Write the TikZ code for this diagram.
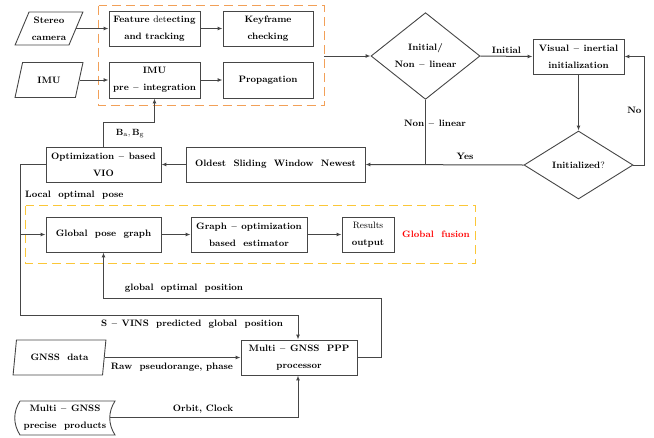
\documentclass[tikz,border=0pt]{standalone}
\usetikzlibrary{shapes.geometric,arrows.meta,calc}
\definecolor{linegray}{RGB}{70,70,70}
\definecolor{orangedash}{RGB}{242,160,88}
\definecolor{fusionyellow}{HTML}{FBC738}
\begin{document}
\begin{tikzpicture}[x=1pt,y=-1pt,
  font=\fontsize{9.3}{17}\selectfont\bfseries,
  box/.style={draw=linegray, line width=0.9pt, align=center, inner sep=0pt, minimum height=35pt},
  para/.style={trapezium, trapezium left angle=63, trapezium right angle=117,
    trapezium stretches=true, draw=linegray, line width=0.9pt, align=center, inner sep=0pt},
  dia/.style={diamond, draw=linegray, line width=0.9pt, align=center, inner sep=0pt},
  conn/.style={draw=linegray, line width=1pt},
  arr/.style={conn, -{Latex[length=5pt,width=4pt]}},
  lbl/.style={inner sep=0pt, align=center},
  group/.style={dash pattern=on 9pt off 5pt, line width=1.2pt}
]
\useasboundingbox (0,0) rectangle (654,437);

% front end: sensors and tracking
\node[para, minimum width=68pt, minimum height=33pt] (cam) at (49,28.5) {Stereo\\camera};
\node[para, minimum width=68pt, minimum height=35pt] (imu) at (49,80) {IMU};
\node[box, minimum width=91pt] (feat) at (154.5,28.5) {Feature {\mdseries det}ecting\\and tracking};
\node[box, minimum width=90pt] (key) at (268,28.5) {Keyframe\\checking};
\node[box, minimum width=91pt, minimum height=36pt] (pre) at (154.5,80) {IMU\\pre $-$ integration};
\node[box, minimum width=90pt, minimum height=36pt] (prop) at (268,80) {Propagation};
\draw[draw=orangedash, group] (98.5,5.5) rectangle (324.5,105.5);
\coordinate (fe) at (324,56);

% initialization logic
\node[dia, minimum width=109pt, minimum height=66pt] (mode) at (425.5,56) {Initial/\\Non $-$ linear};
\node[box, minimum width=91pt] (vinit) at (578.5,56.5) {Visual $-$ inertial\\initialization};
\node[dia, minimum width=109pt, minimum height=68pt] (done) at (578.5,165) {Initialized{\mdseries ?}};

% sliding window optimization
\node[box, minimum width=179pt] (win) at (275.5,164.5) {Oldest\ \ Sliding\ \ Window\ \ Newest};
\node[box, minimum width=115pt] (vio) at (103.5,164.5) {Optimization $-$ based\\VIO};

% global fusion
\draw[color=fusionyellow, dash pattern=on 9pt off 5pt, line width=1.5pt] (25.5,205.5) rectangle (475.5,263.5);
\node[box, minimum width=115pt] (pg) at (103.5,234.5) {Global\ \ pose\ \ graph};
\node[box, minimum width=116pt] (est) at (249,234.5) {Graph $-$ optimization\\based\ \ estimator};
\node[box, minimum width=52pt] (res) at (368,234.5) {{\mdseries Results}\\output};
\node[lbl, text=red] (gf) at (436,234) {Global\ \ fusion};

% GNSS side
\node[box, minimum width=116pt] (ppp) at (299,357.5) {Multi $-$ GNSS\ \ PPP\\processor};
\node[para, trapezium left angle=71, trapezium right angle=109, minimum width=93pt, minimum height=35pt] (gnss) at (59.5,357.5) {GNSS\ \ data};
\node[lbl, minimum width=90pt, minimum height=34pt] (prod) at (65,418) {Multi $-$ GNSS\\precise\ \ products};
\draw[linegray, line width=0.9pt] (20,401) -- (115,401)
  .. controls (108,412) and (108,424) .. (115,435) -- (20,435)
  .. controls (13,424) and (13,412) .. (20,401);

% connectors: front end
\draw[arr] (cam.east |- feat.west) -- (feat.west);
\draw[arr] (imu.east |- pre.west) -- (pre.west);
\draw[arr] (feat) -- (key);
\draw[arr] (pre) -- (prop);
\draw[arr] (fe) -- (mode.west);

% connectors: initialization
\draw[arr] (mode.east) -- node[lbl, above=2.5pt] {Initial} (vinit.west);
\draw[arr] (vinit.south) -- (done.north);
\coordinate (nor) at (644,165);
\draw[arr] (done.east) -- (nor) -- node[lbl, left=2pt] {No} (nor |- vinit.east) -- (vinit.east);
\coordinate (join) at (mode.south |- done.west);
\draw[conn] (mode.south) -- (join);
\node[lbl] at (435,124) {Non $-$ linear};
\draw[arr] (done.west) -- (win.east);
\node[lbl] at (465,156) {Yes};
\draw[arr] (win.west) -- (vio.east);

% bias feedback
\coordinate (b1) at (103,122);
\coordinate (b2) at (154.5,122);
\draw[arr] (vio.north -| b1) -- (b1) -- (b2) -- (pre.south);
\node[lbl] at (130,134) {$\mathbf{B}_{\mathrm{a}},\mathbf{B}_{\mathrm{g}}$};

% local pose to global fusion and GNSS
\coordinate (l1) at (20,164.5);
\coordinate (l2) at (20,315);
\coordinate (l3) at (298,315);
\draw[conn] (vio.west) -- (l1) -- (l2) -- (l3);
\draw[arr] (l3) -- (ppp.north -| l3);
\node[lbl, anchor=west] at (25,195) {Local\ \ optimal\ \ pose};
\draw[arr] (pg.west -| l1) -- (pg.west);
\node[lbl] at (192,324) {S $-$ VINS\ \ predicted\ \ global\ \ position};

% fusion chain
\draw[arr] (pg) -- (est);
\draw[arr] (est) -- (res);

% GNSS feedback to pose graph
\coordinate (g1) at (381,357.5);
\coordinate (g2) at (381,298);
\coordinate (g3) at (103.5,298);
\draw[arr] (ppp.east) -- (g1) -- (g2) -- (g3) -- (pg.south);
\node[lbl] at (184,288) {global\ \ optimal\ \ position};

% GNSS inputs
\draw[arr] (gnss.east |- ppp.west) -- (ppp.west);
\node[lbl] at (172,367) {Raw\ \ pseudorange, phase};
\coordinate (o1) at (298,417);
\draw[arr] (prod.east |- o1) -- (o1) -- (ppp.south -| o1);
\node[lbl] at (203,409) {Orbit, Clock};
\end{tikzpicture}
\end{document}
